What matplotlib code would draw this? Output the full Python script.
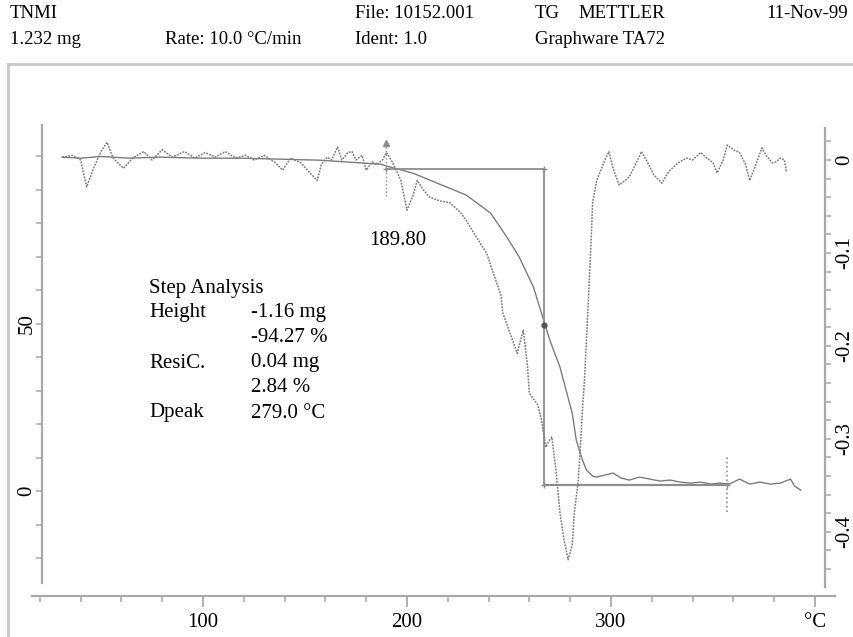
import matplotlib
matplotlib.use("Agg")
import matplotlib.pyplot as plt
from matplotlib.lines import Line2D

plt.rcParams['font.family'] = ['Liberation Serif', 'DejaVu Serif']

# TG curve (mass %, left axis)
tg_temp = [31, 40, 50, 64, 79, 99, 118, 138, 157, 172, 187, 192, 203, 215, 229, 241,
           249, 255, 262, 267, 270, 275, 278, 281, 283, 286, 288, 291, 293, 297, 301,
           305, 309, 314, 319, 324, 329, 334, 339, 344, 349, 353, 358, 363, 368, 373,
           378, 383, 388, 390, 393]
tg_mass = [99.7, 99.4, 99.9, 99.4, 99.7, 99.4, 99.4, 99.1, 98.8, 98.2, 97.6, 96.7, 94.9,
           91.9, 88.4, 83.0, 75.8, 69.9, 60.9, 51.0, 45.1, 37.0, 30.1, 23.3, 15.2, 9.3,
           6.3, 4.5, 4.2, 4.8, 5.4, 3.9, 3.3, 4.2, 3.6, 3.0, 3.3, 2.7, 2.4, 2.7, 2.1,
           2.4, 2.1, 3.6, 2.1, 2.7, 2.1, 2.4, 3.6, 1.5, 0.3]

# DTG curve (right axis)
dtg_temp = [31, 36, 40, 43, 46, 50, 53, 56, 61, 66, 71, 75, 80, 85, 91, 96, 101, 106,
            111, 116, 121, 125, 130, 135, 139, 143, 148, 152, 156, 158, 161, 163, 166,
            168, 171, 173, 175, 178, 180, 183, 185, 188, 190, 193, 197, 200, 203, 205,
            208, 211, 216, 221, 226, 229, 234, 239, 243, 246, 247, 250, 254, 257, 259,
            260, 264, 266, 268, 270, 271, 273, 275, 277, 279, 281, 282, 284, 285, 286,
            287, 289, 290, 291, 293, 295, 297, 299, 301, 304, 307, 309, 312, 315, 318,
            321, 325, 327, 329, 333, 337, 340, 344, 347, 350, 352, 355, 357, 360, 363,
            366, 368, 371, 374, 376, 379, 381, 383, 385, 386]
dtg_val = [0.003, 0.005, 0.0, -0.029, -0.011, 0.009, 0.019, 0.002, -0.009, 0.003, 0.009,
           0.0, 0.011, 0.003, 0.009, 0.002, 0.008, 0.003, 0.009, 0.002, 0.005, 0.0, 0.005,
           -0.002, -0.011, 0.002, -0.003, -0.013, -0.022, -0.005, 0.003, 0.0, 0.014, 0.0,
           0.008, 0.009, 0.0, 0.005, -0.011, -0.002, -0.005, 0.0, 0.008, -0.003, -0.022,
           -0.054, -0.038, -0.022, -0.032, -0.040, -0.044, -0.046, -0.056, -0.065, -0.083,
           -0.100, -0.126, -0.145, -0.165, -0.183, -0.208, -0.183, -0.220, -0.251, -0.263,
           -0.280, -0.309, -0.301, -0.298, -0.333, -0.380, -0.409, -0.430, -0.414, -0.380,
           -0.344, -0.309, -0.269, -0.237, -0.147, -0.100, -0.046, -0.022, -0.011, 0.0,
           0.009, -0.009, -0.027, -0.022, -0.018, -0.005, 0.009, -0.003, -0.016, -0.025,
           -0.017, -0.011, -0.003, 0.002, 0.0, 0.008, 0.002, -0.003, -0.014, 0.0, 0.016,
           0.011, 0.008, -0.005, -0.022, -0.005, 0.013, 0.005, -0.003, -0.002, 0.002,
           0.0, -0.013]

# step analysis
onset_temp = 189.8
mid_temp = 267
end_temp = 357
onset_level = 96.1
resid_level = 1.8
mid_level = 49.6

header = [("TNMI", 10, 13), ("1.232 mg", 10, 40), ("Rate: 10.0 °C/min", 165, 40),
          ("File: 10152.001", 355, 13), ("Ident: 1.0", 355, 40), ("TG", 535, 13),
          ("METTLER", 578, 13), ("Graphware TA72", 535, 40)]
step_rows = [("Step Analysis", ""), ("Height", "-1.16 mg"), ("", "-94.27 %"),
             ("ResiC.", "0.04 mg"), ("", "2.84 %"), ("Dpeak", "279.0 °C")]

W, H = 854, 637
fig = plt.figure(figsize=(W / 100, H / 100), dpi=100)


def fx(x):
    return x / W


def fy(y):
    return 1 - y / H


grey = '#a8a8a8'
curve = '#7c7c7c'
fs = 15

ax = fig.add_axes([fx(32), fy(596), (835 - 32) / W, (596 - 125) / H])
ax.patch.set_alpha(0)
ax.set_xlim(16.2, 409.8)
ax.set_ylim(-31.3, 109.3)

ax2 = ax.twinx()
ax2.set_ylim(-0.469, 0.0376)

for s in ['top', 'right']:
    ax.spines[s].set_visible(False)
for s in ['top', 'left', 'bottom']:
    ax2.spines[s].set_visible(False)

ax.spines['left'].set_position(('data', 21))
ax.spines['left'].set_bounds(-27.5, 109.3)
ax2.spines['right'].set_position(('data', 405))
ax2.spines['right'].set_bounds(-0.459, 0.034)
for sp in [ax.spines['left'], ax.spines['bottom'], ax2.spines['right']]:
    sp.set_color(grey)
    sp.set_linewidth(1.6)

ax.set_xticks([100, 200, 300, 400])
ax.set_xticklabels(['100', '200', '300', '°C'])
ax.set_xticks(range(20, 401, 20), minor=True)
ax.set_yticks([0, 50])
ax.set_yticks(range(-20, 101, 10), minor=True)
ax2.set_yticks([0, -0.1, -0.2, -0.3, -0.4])
ax2.set_yticklabels(['0', '-0.1', '-0.2', '-0.3', '-0.4'])
ax2.set_yticks([i * 0.02 for i in range(-22, 2)], minor=True)

ax.tick_params(axis='x', which='major', length=8, width=1.3, color=grey,
               labelsize=fs, pad=4)
ax.tick_params(axis='x', which='minor', length=4, width=1.1, color=grey)
ax.tick_params(axis='y', which='both', length=4, width=1.1, color=grey)
ax.tick_params(axis='y', which='major', labelsize=fs, labelrotation=90, pad=0)
ax2.tick_params(axis='y', which='both', length=4, width=1.1, color=grey)
ax2.tick_params(axis='y', which='major', labelsize=fs, labelrotation=90, pad=3)
for lab in ax.get_yticklabels() + ax2.get_yticklabels():
    lab.set_va('center')

# curves
ax.plot(tg_temp, tg_mass, color=curve, lw=1.0)
ax2.plot(dtg_temp, dtg_val, color=curve, lw=1.1, ls=(0, (1.2, 0.8)))

# step analysis construction
step_col = '#8e8e8e'
ax.plot([onset_temp, mid_temp], [onset_level, onset_level], color=step_col, lw=1.3)
ax.plot([mid_temp, mid_temp], [onset_level, resid_level], color=step_col, lw=1.3)
ax.plot([mid_temp, end_temp], [resid_level, resid_level], color=step_col, lw=1.6)
ax.plot([onset_temp, onset_temp], [88.0, 104.0], color=step_col, lw=1.0, ls=':')
ax.plot([onset_temp], [104.0], marker='^', ms=4, color=step_col)
ax.plot([end_temp, end_temp], [-6.3, 10.1], color=step_col, lw=1.2, ls=':')
ax.plot([mid_temp], [mid_level], marker='o', ms=3.5, color='#555555')
ax.plot([onset_temp, mid_temp, mid_temp, end_temp],
        [onset_level, onset_level, resid_level, resid_level],
        ls='none', marker='+', ms=5, color=step_col)

ax.text(195.6, 74.9, "189.80", fontsize=fs, ha='center', va='center')

for i, (a, b) in enumerate(step_rows):
    y = 288 + 25 * i
    if a:
        fig.text(fx(149), fy(y), a, fontsize=fs, va='center')
    if b:
        fig.text(fx(251), fy(y), b, fontsize=fs, va='center')

for txt, x, y in header:
    fig.text(fx(x), fy(y), txt, fontsize=13.5, va='center')
fig.text(fx(848), fy(13), "11-Nov-99", fontsize=13.5, va='center', ha='right')

# scanned page frame
fig.add_artist(Line2D([fx(8), fx(8)], [fy(64), 0], color='#c8c8c8', lw=2))
fig.add_artist(Line2D([fx(8), 1], [fy(64), fy(64)], color='#c8c8c8', lw=2))

fig.savefig("out.png", dpi=100)
